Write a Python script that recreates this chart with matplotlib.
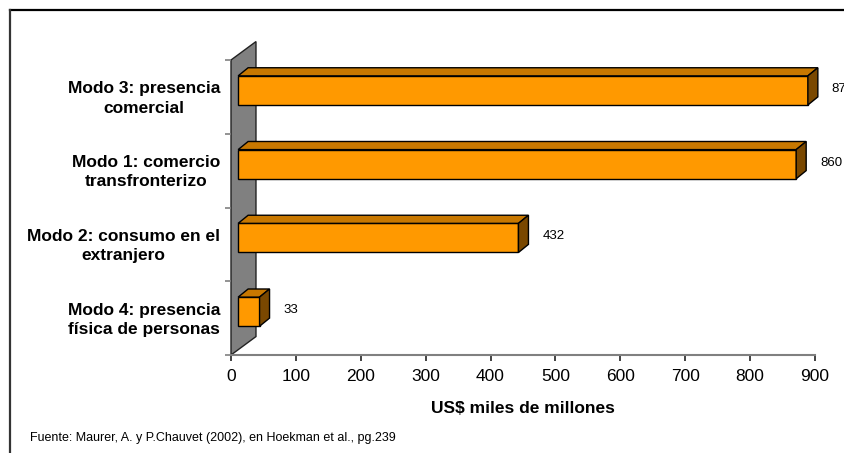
import matplotlib
matplotlib.use("Agg")
import matplotlib.pyplot as plt
from matplotlib.patches import Polygon
from matplotlib.lines import Line2D

plt.rcParams['font.family'] = ['Liberation Sans', 'DejaVu Sans']

categories = ["Modo 4: presencia\nfísica de personas",
              "Modo 2: consumo en el\nextranjero",
              "Modo 1: comercio\ntransfronterizo",
              "Modo 3: presencia\ncomercial"]
values = [33, 432, 860, 878]
xticks = [0, 100, 200, 300, 400, 500, 600, 700, 800, 900]
xlabel = "US$ miles de millones"
source = "Fuente: Maurer, A. y P.Chauvet (2002), en Hoekman et al., pg.239"

W, H = 844, 453
fig = plt.figure(figsize=(W / 100, H / 100), dpi=100)
ax = fig.add_axes([231 / W, (H - 355) / H, 584 / W, 295 / H])
ax.set_xlim(0, 900)
ax.set_ylim(0, 4)

front = "#FF9900"
top_c = "#C87800"
side_c = "#7A4800"

# 3D depth in data units
x0 = 11.0
bar_off = 0.39
bar_h = 0.395
ddx = 15.4
ddy = 0.11
wall_dx = 38.5
wall_dy = 0.25

# back wall
wall = Polygon([(0, 0), (0, 4), (wall_dx, 4 + wall_dy), (wall_dx, wall_dy)],
               closed=True, facecolor="#808080", edgecolor="#222222",
               lw=1.0, clip_on=False, zorder=1)
ax.add_patch(wall)

ys = [i + bar_off for i in range(len(values))]
ax.barh(ys, values, left=x0, height=bar_h, align='edge', color=front,
        edgecolor="black", linewidth=1.0, zorder=3)
for y, v in zip(ys, values):
    xe = x0 + v
    yt = y + bar_h
    ax.add_patch(Polygon([(x0, yt), (x0 + ddx, yt + ddy), (xe + ddx, yt + ddy), (xe, yt)],
                         closed=True, facecolor=top_c, edgecolor="black", lw=1.0,
                         zorder=3, clip_on=False))
    ax.add_patch(Polygon([(xe, y), (xe, yt), (xe + ddx, yt + ddy), (xe + ddx, y + ddy)],
                         closed=True, facecolor=side_c, edgecolor="black", lw=1.0,
                         zorder=3, clip_on=False))
    ax.text(xe + 37, y + bar_h / 2 + 0.02, f"{v}", ha='left', va='center',
            fontsize=9.5, color="black", clip_on=False)

# axes styling
for s in ['top', 'right', 'left']:
    ax.spines[s].set_visible(False)
ax.spines['bottom'].set_color("#808080")
ax.spines['bottom'].set_linewidth(1.5)
ax.set_xticks(xticks)
ax.set_xticklabels([str(t) for t in xticks], fontsize=12.5)
ax.tick_params(axis='x', direction='out', length=4, width=1.2, color="#222222", pad=6)

ax.set_yticks(range(5))
ax.set_yticklabels([])
ax.tick_params(axis='y', which='major', direction='out', length=4.5, width=1.2, color="#808080")
ax.set_yticks([y + bar_h / 2 - 0.06 for y in ys], minor=True)
ax.set_yticklabels(categories, minor=True, fontsize=12.5, fontweight='bold',
                   multialignment='center', linespacing=1.35)
ax.tick_params(axis='y', which='minor', length=0, pad=8)

ax.set_xlabel(xlabel, fontsize=12.5, fontweight='bold', labelpad=12)
ax.patch.set_alpha(0)

fig.text(30 / W, 1 - 438 / H, source, fontsize=9, ha='left', va='center')

# outer frame (top and left edges)
fig.add_artist(Line2D([9.5 / W, 1.0], [1 - 9.5 / H, 1 - 9.5 / H], color="black", lw=1.6,
                      transform=fig.transFigure))
fig.add_artist(Line2D([9.5 / W, 9.5 / W], [0, 1 - 9.5 / H], color="#333333", lw=1.6,
                      transform=fig.transFigure))

fig.savefig("out.png", dpi=100)
